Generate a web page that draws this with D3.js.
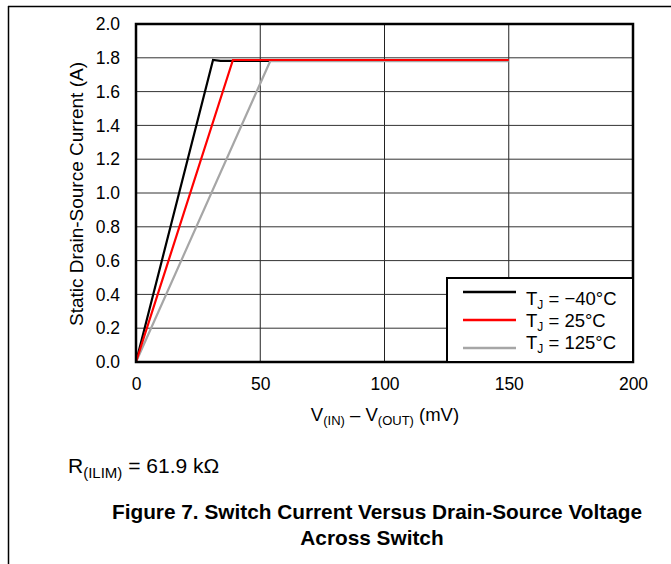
<!DOCTYPE html>
<html><head><meta charset="utf-8">
<script src="https://cdn.jsdelivr.net/npm/d3@7"></script>
<style>body{margin:0;background:#fff;} text{font-family:"Liberation Sans",Arial,sans-serif;}</style>
</head><body>
<svg id="c" width="671" height="564"></svg>
<script>
const xTicks = [0, 50, 100, 150, 200];
const yTicks = [0.0, 0.2, 0.4, 0.6, 0.8, 1.0, 1.2, 1.4, 1.6, 1.8, 2.0];
const seriesNames = ["T_J = \u221240\u00B0C", "T_J = 25\u00B0C", "T_J = 125\u00B0C"];
const seriesColors = ["#000000", "#ff0000", "#a6a6a6"];
const vNeg40 = [0, 31, 34, 150];
const iNeg40 = [0, 1.787, 1.782, 1.782];
const v25 = [0, 39, 150];
const i25 = [0, 1.787, 1.787];
const v125 = [0, 54, 150];
const i125 = [0, 1.78, 1.78];

const svg = d3.select("#c");
const L = 136, R = 633, T = 24, B = 362;
const x = d3.scaleLinear().domain([0, 200]).range([L, R]);
const y = d3.scaleLinear().domain([0, 2]).range([B, T]);

// page frame
svg.append("line").attr("x1", 8).attr("x2", 671).attr("y1", 6.5).attr("y2", 6.5).attr("stroke", "#000").attr("stroke-width", 1.5);
svg.append("line").attr("x1", 8.5).attr("x2", 8.5).attr("y1", 6).attr("y2", 564).attr("stroke", "#000").attr("stroke-width", 1.5);

// grid
const g = svg.append("g");
g.selectAll(".gx").data(xTicks).join("line")
  .attr("x1", d => x(d)).attr("x2", d => x(d)).attr("y1", T).attr("y2", B)
  .attr("stroke", "#222").attr("stroke-width", 1);
g.selectAll(".gy").data(yTicks).join("line")
  .attr("x1", L).attr("x2", R).attr("y1", d => y(d)).attr("y2", d => y(d))
  .attr("stroke", "#333").attr("stroke-width", 1);

// axes labels via d3 axes
const xAxis = svg.append("g").attr("transform", `translate(0,${B})`)
  .call(d3.axisBottom(x).tickValues(xTicks).tickSize(0).tickPadding(16).tickFormat(d3.format("d")));
xAxis.select(".domain").remove();
xAxis.selectAll("text").attr("font-size", 17.5).attr("fill", "#000");
const yAxis = svg.append("g").attr("transform", `translate(${L},0)`)
  .call(d3.axisLeft(y).tickValues(yTicks).tickSize(0).tickPadding(16).tickFormat(d3.format(".1f")));
yAxis.select(".domain").remove();
yAxis.selectAll("text").attr("font-size", 17.5).attr("fill", "#000");

// series
const line = d3.line().x(d => x(d[0])).y(d => y(d[1]));
const series = [
  {v: vNeg40, i: iNeg40, c: seriesColors[0]},
  {v: v125, i: i125, c: seriesColors[2]},
  {v: v25, i: i25, c: seriesColors[1]}
];
series.forEach(s => {
  svg.append("path").attr("d", line(s.v.map((d, k) => [d, s.i[k]])))
    .attr("fill", "none").attr("stroke", s.c).attr("stroke-width", 2.2);
});

// plot border
svg.append("rect").attr("x", L).attr("y", T).attr("width", R - L).attr("height", B - T)
  .attr("fill", "none").attr("stroke", "#000").attr("stroke-width", 2.5);

// legend
const lg = svg.append("g");
lg.append("rect").attr("x", 447).attr("y", 278).attr("width", R - 447).attr("height", B - 278)
  .attr("fill", "#fff").attr("stroke", "#000").attr("stroke-width", 2);
const textBase = [305, 327, 349];
seriesNames.forEach((n, k) => {
  const yy = 292 + k * 28;
  lg.append("line").attr("x1", 463).attr("x2", 516).attr("y1", yy).attr("y2", yy)
    .attr("stroke", seriesColors[k]).attr("stroke-width", 2.5);
  const t = lg.append("text").attr("x", 526).attr("y", textBase[k]).attr("font-size", 18.5).attr("fill", "#000");
  const parts = n.split("_J");
  t.append("tspan").text("T");
  t.append("tspan").attr("font-size", 12).attr("dy", 4).text("J");
  t.append("tspan").attr("dy", -4).text(parts[1]);
});

// axis titles
svg.append("text").attr("transform", `translate(83,194) rotate(-90)`)
  .attr("text-anchor", "middle").attr("font-size", 19).attr("fill", "#000")
  .text("Static Drain-Source Current (A)");
const xt = svg.append("text").attr("x", 385).attr("y", 421).attr("text-anchor", "middle")
  .attr("font-size", 18.5).attr("fill", "#000");
xt.append("tspan").text("V");
xt.append("tspan").attr("font-size", 13).attr("dy", 4).text("(IN)");
xt.append("tspan").attr("dy", -4).text(" \u2013 V");
xt.append("tspan").attr("font-size", 13).attr("dy", 4).text("(OUT)");
xt.append("tspan").attr("dy", -4).text(" (mV)");

// R(ILIM)
const rt = svg.append("text").attr("x", 68).attr("y", 473).attr("font-size", 21).attr("fill", "#000");
rt.append("tspan").text("R");
rt.append("tspan").attr("font-size", 15).attr("dy", 5).text("(ILIM)");
rt.append("tspan").attr("dy", -5).text(" = 61.9 k\u03A9");

// caption
svg.append("text").attr("x", 377).attr("y", 519).attr("text-anchor", "middle")
  .attr("font-size", 20.8).attr("font-weight", "bold").attr("fill", "#000")
  .text("Figure 7. Switch Current Versus Drain-Source Voltage");
svg.append("text").attr("x", 372).attr("y", 545).attr("text-anchor", "middle")
  .attr("font-size", 20.8).attr("font-weight", "bold").attr("fill", "#000")
  .text("Across Switch");
</script>
</body></html>
